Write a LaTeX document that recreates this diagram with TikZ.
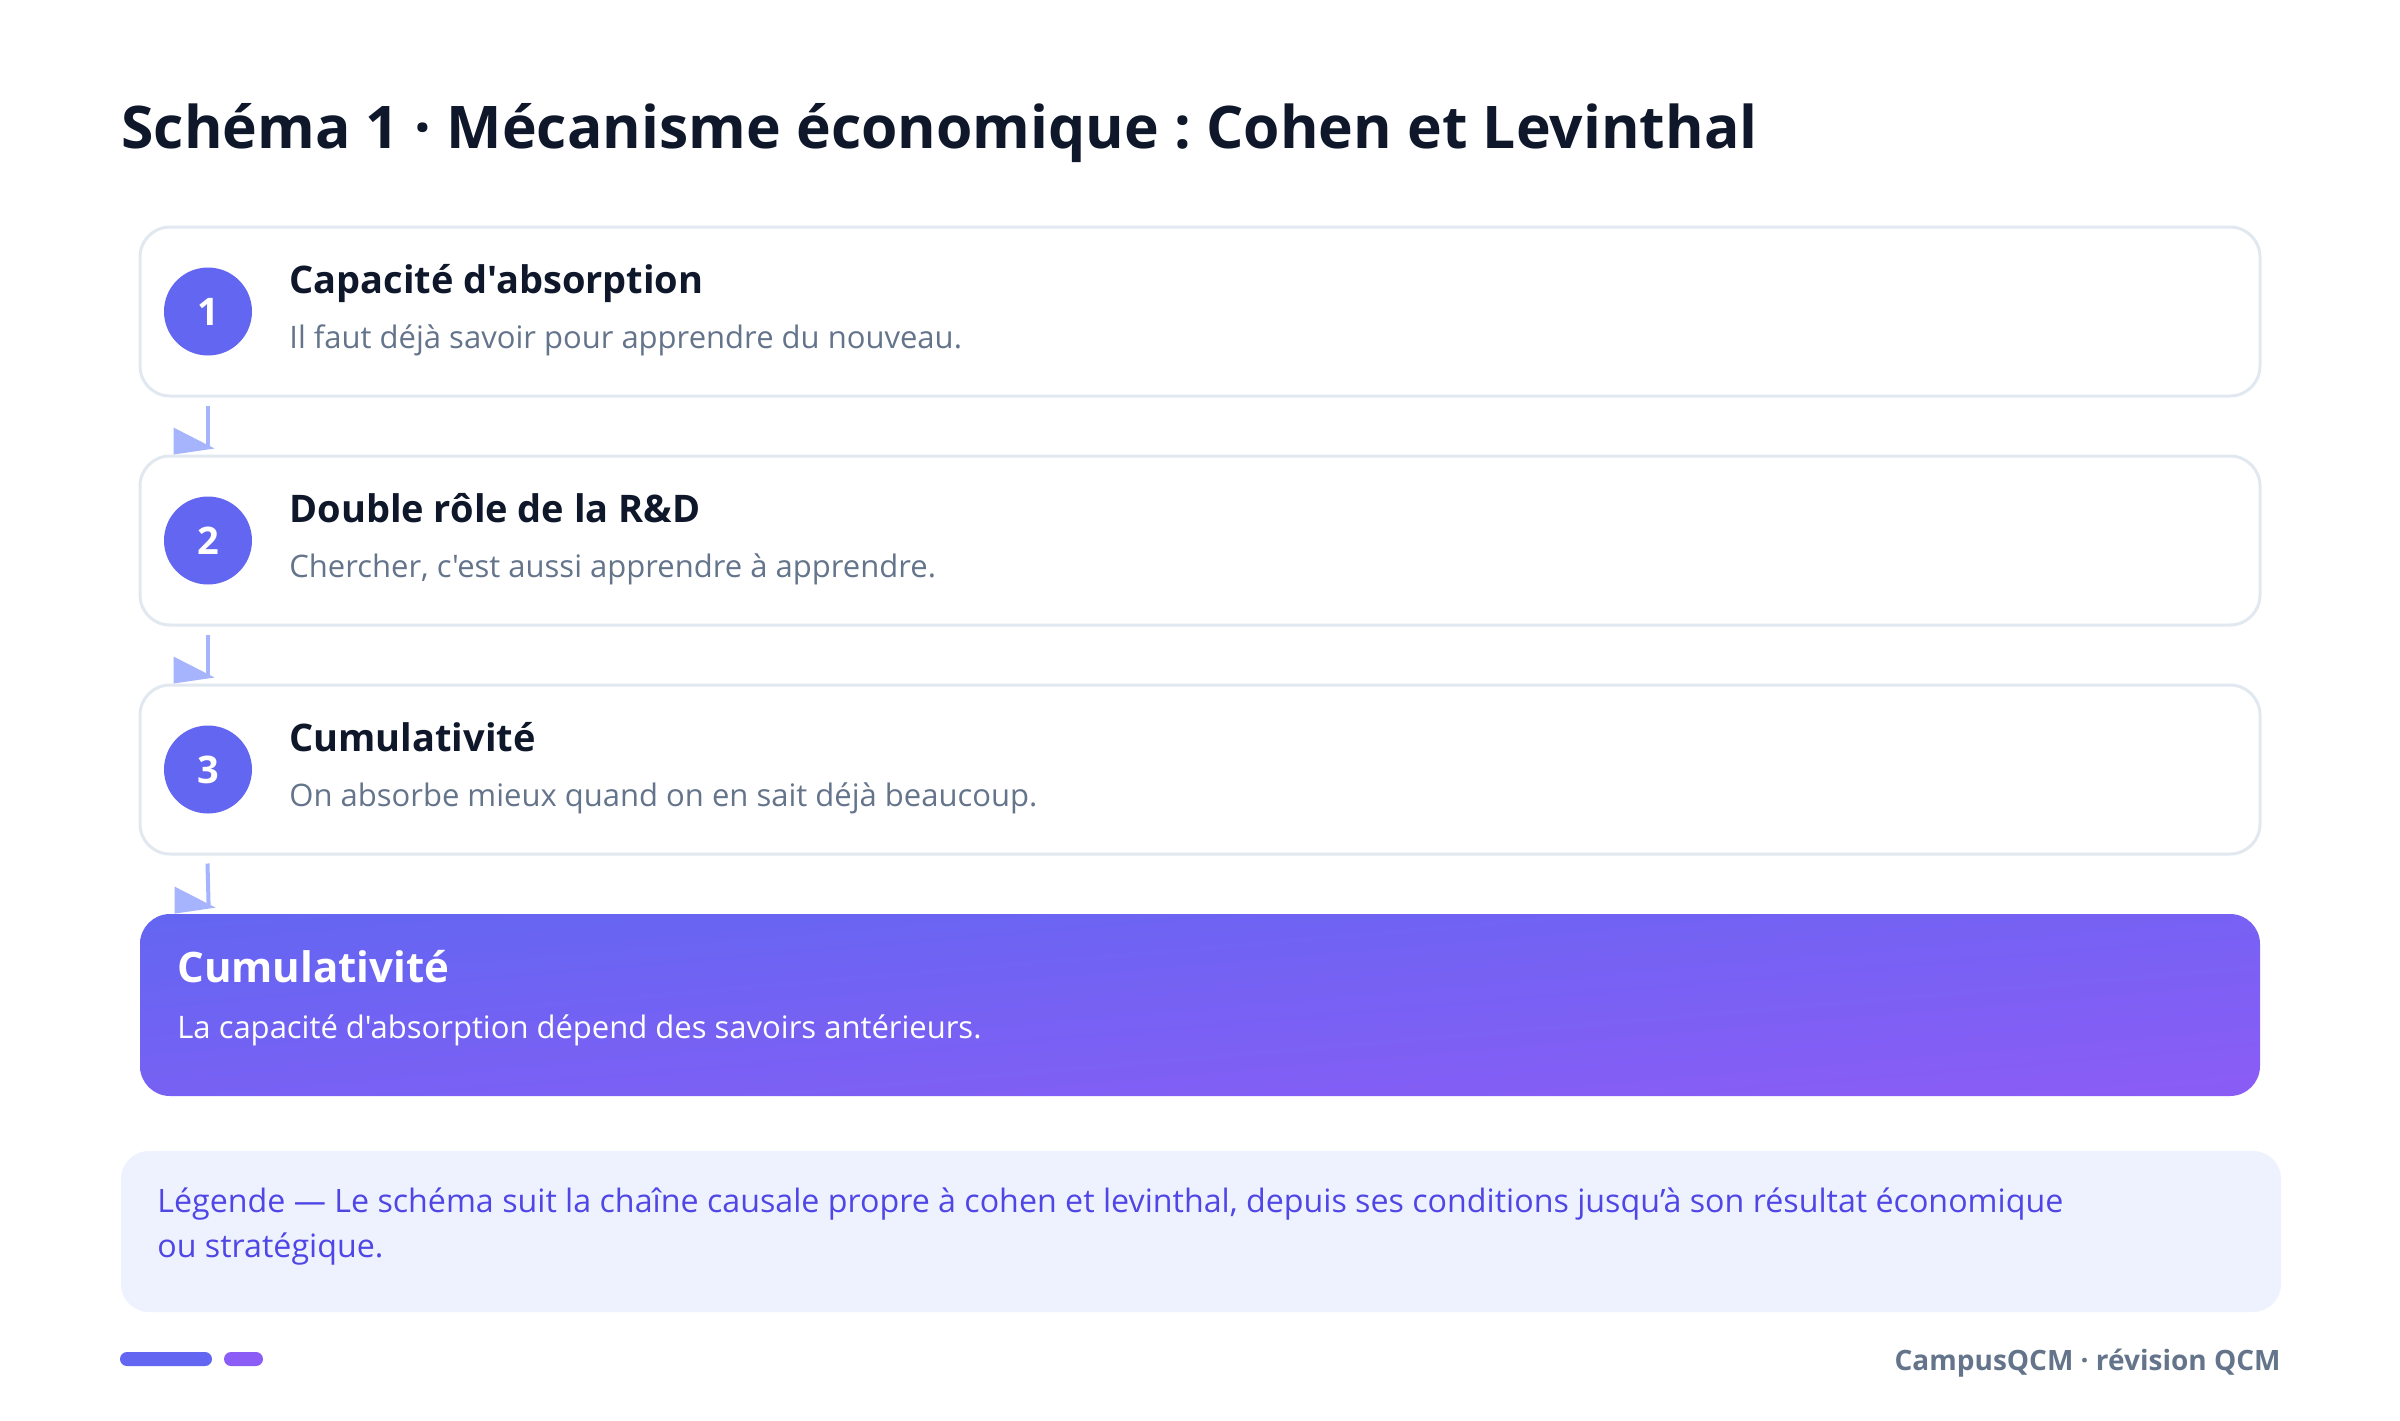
\documentclass[tikz,border=0pt]{standalone}
\usepackage{fontspec}
\setmainfont{Open Sans}[Ligatures=TeXOff]
\frenchspacing
\usetikzlibrary{calc, positioning}

\definecolor{ink}{HTML}{0F172A}
\definecolor{muted}{HTML}{64748B}
\definecolor{edge}{HTML}{E2E8F0}
\definecolor{indigoA}{HTML}{6366F1}
\definecolor{violetA}{HTML}{8B5CF6}
\definecolor{flowblue}{HTML}{A5B4FC}
\definecolor{legbg}{HTML}{EEF2FF}
\definecolor{legink}{HTML}{4F46E5}

% dégradé diagonal 6366F1 -> 8B5CF6 (haut gauche vers bas droite)
\pgfdeclarefunctionalshading{resultgrad}{\pgfpointorigin}{\pgfpoint{100bp}{100bp}}{}{
  neg add 50 add 100 div
  dup 0 lt {pop 0} if dup 1 gt {pop 1} if
  dup dup
  0.0196 mul 0.9451 add
  3 1 roll
  -0.0392 mul 0.4 add
  exch
  0.1569 mul 0.3882 add
  3 1 roll exch
}

\tikzset{
  x=0.5pt, y=-0.5pt,
  txt/.style={anchor=base west, inner sep=0pt},
  stepbox/.style={draw=edge, line width=1.5pt, fill=white, rounded corners=15pt,
    minimum width=1060pt, minimum height=84.5pt, inner sep=0pt},
  resultbox/.style={rounded corners=15pt, shade, shading=resultgrad,
    minimum width=1060pt, minimum height=91pt, inner sep=0pt},
  numdot/.style={circle, fill=indigoA, minimum size=44pt, inner sep=0pt,
    text=white, font=\fontsize{19}{22}\selectfont\bfseries},
  headtxt/.style={txt, text=ink, font=\fontsize{19}{22}\selectfont\bfseries},
  subtxt/.style={txt, text=muted, font=\fontsize{15.5}{18}\selectfont},
  flowline/.style={draw=flowblue, line width=2pt},
  flowhead/.style={fill=flowblue},
}

\begin{document}
\begin{tikzpicture}

        \useasboundingbox[fill=white] (0,0) rectangle (2400,1420);

        % titre
        \node[txt, text=ink, font=\fontsize{29.4}{34}\selectfont\bfseries] (title) at (121,148)
            {Schéma 1 · Mécanisme économique : Cohen et Levinthal};

        % les trois étapes
        \foreach \n/\head/\sub [evaluate=\n as \top using 227+(\n-1)*229] in {
            1/{Capacité d'absorption}/{Il faut déjà savoir pour apprendre du nouveau.},
            2/{Double rôle de la R\&D}/{Chercher, c'est aussi apprendre à apprendre.},
            3/{Cumulativité}/{On absorbe mieux quand on en sait déjà beaucoup.}} {
            \node[stepbox] (step\n) at (1200,\top+84.5) {};
            \node[numdot] (dot\n) at (208,\top+84.5) {\n};
            \node[headtxt] (head\n) at (289,\top+66) {\head};
            \node[subtxt] (sub\n) at (289,\top+121) {\sub};
        }

        % résultat
        \node[resultbox] (result) at (1200,1005) {};
        \node[txt, text=white, font=\fontsize{21}{24}\selectfont\bfseries] (reshead) at (177,982) {Cumulativité};
        \node[txt, text=white, font=\fontsize{15.5}{18}\selectfont] (ressub) at (177,1038)
            {La capacité d'absorption dépend des savoirs antérieurs.};

        % flèches entre les cases
        \foreach \a/\b in {step1/step2, step2/step3, step3/result} {
            \draw[flowline] ($(\a.south west)+(69,8)$) -- ($(\b.north west)+(69,-8)$);
            \fill[flowhead] ($(\b.north west)+(35,-27)$) -- ++(0,27) -- ++(41,-6) -- cycle;
        }

        % légende
        \node[fill=legbg, rounded corners=14pt, minimum width=1080pt, minimum height=80.5pt,
            inner sep=0pt] (legend) at (1201,1231.5) {};
        \node[txt, text=legink, font=\fontsize{16.1}{22}\selectfont] (leg1) at (157,1212)
            {Légende — Le schéma suit la chaîne causale propre à cohen et levinthal, depuis ses conditions jusqu’à son résultat économique};
        \node[txt, text=legink, font=\fontsize{16.1}{22}\selectfont] (leg2) at (157,1257) {ou stratégique.};

        % pied de page
        \fill[indigoA, rounded corners=3.5pt] (120,1352) rectangle (212,1366);
        \fill[violetA, rounded corners=3.5pt] (224,1352) rectangle (263,1366);
        \node[anchor=base east, inner sep=0pt, text=muted, font=\fontsize{14}{18}\selectfont\bfseries] (footer)
            at (2281,1370) {CampusQCM · révision QCM};

    \end{tikzpicture}
\end{document}
